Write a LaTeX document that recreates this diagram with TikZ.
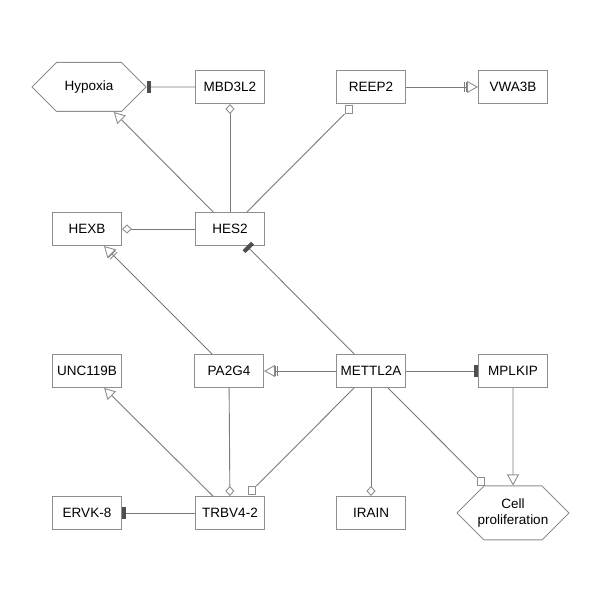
\documentclass[tikz,border=0pt]{standalone}
\usepackage{fontspec}
\setmainfont{Liberation Sans}
\usetikzlibrary{arrows.meta,shapes.symbols}
\definecolor{edgecol}{HTML}{7A7A7A}
\definecolor{boxcol}{HTML}{8E8E8E}
\definecolor{teecol}{HTML}{4E4E4E}
\tikzset{
  labelfont/.style={font=\fontsize{13.5}{16}\selectfont},
  gene/.style={draw=boxcol, line width=1pt, fill=white, minimum width=69pt,
    minimum height=33pt, inner sep=0pt, labelfont},
  pheno/.style={signal, signal to=west and east, signal pointer angle=90,
    draw=boxcol, line width=1pt, fill=white, inner sep=0pt, align=center, labelfont},
  link/.style={draw=edgecol, line width=0.9pt},
  inhibits/.style={link, -{Rectangle[length=4pt,width=12pt,color=teecol]}},
  activates/.style={link, -{Triangle[open,length=11pt,width=12pt,fill=white,color=boxcol]}},
  binds/.style={link, -{Diamond[open,length=10pt,width=9pt,fill=white,color=boxcol]}},
  converts/.style={link, -{Bar[width=10pt,line width=0.8pt,sep=1.5pt]Bar[width=10pt,line width=0.8pt,sep=0pt]Triangle[open,length=11pt,width=12pt,fill=white,color=boxcol]}},
  % upright square marking the target end of a connector
  sqmark/.style={draw=boxcol, fill=white, line width=0.9pt, minimum size=7.5pt,
    inner sep=0pt},
}
\begin{document}
\begin{tikzpicture}[x=1pt,y=1pt]
\useasboundingbox (0,0) rectangle (600,600);
% phenotypes
\node[pheno, minimum width=114pt, minimum height=49pt] (hyp) at (89,513) {Hypoxia};
\node[pheno, minimum width=112pt, minimum height=54pt, inner xsep=-6.5pt] (cell) at (513,87) {Cell\\proliferation};
% genes, row by row
\node[gene] (mbd) at (230,513) {MBD3L2};
\node[gene] (reep) at (371,513) {REEP2};
\node[gene] (vwa) at (513,513) {VWA3B};
\node[gene] (hexb) at (87,371) {HEXB};
\node[gene] (hes) at (230,371) {HES2};
\node[gene] (unc) at (87,229) {UNC119B};
\node[gene] (pa) at (229,229) {PA2G4};
\node[gene] (mettl) at (371,229) {METTL2A};
\node[gene] (mpl) at (513,229) {MPLKIP};
\node[gene] (ervk) at (87,87) {ERVK-8};
\node[gene] (trbv) at (230,87) {TRBV4-2};
\node[gene] (irain) at (371,87) {IRAIN};
% square end markers
\node[sqmark, anchor=north east] (sqreep) at ([shift={(-1,-1.5)}]reep.-135) {};
\node[sqmark, anchor=south west] (sqtrbv) at ([shift={(0.8,1.5)}]trbv.45) {};
\node[sqmark, anchor=south east] (sqcell) at ([shift={(-0.5,0.3)}]cell.135) {};
% interactions
\draw[inhibits] (mbd) -- (hyp);
\draw[activates] (hes) -- (hyp);
\draw[binds] (hes) -- (mbd);
\draw[link] (hes) -- (sqreep);
\draw[converts] (reep) -- (vwa);
\draw[binds] (hes) -- (hexb);
\draw[converts] (pa) -- (hexb);
\draw[inhibits] (mettl) -- (hes);
\draw[converts] (mettl) -- (pa);
\draw[inhibits] (mettl) -- (mpl);
\draw[activates] (mpl) -- (cell);
\draw[link] (mettl) -- (sqcell);
\draw[binds] (mettl) -- (irain);
\draw[link] (mettl) -- (sqtrbv);
\draw[binds] (pa) -- (trbv);
\draw[activates] (trbv) -- (unc);
\draw[inhibits] (trbv) -- (ervk);
\end{tikzpicture}
\end{document}
